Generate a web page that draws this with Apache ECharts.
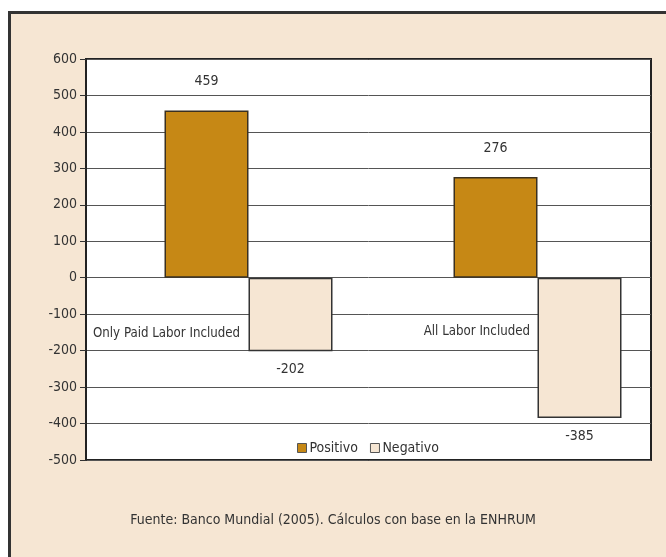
<!DOCTYPE html>
<html>
<head>
<meta charset="utf-8">
<script src="https://cdn.jsdelivr.net/npm/echarts@6/dist/echarts.min.js"></script>
<style>
  html, body { margin: 0; padding: 0; background: #fff; }
  #main { width: 666px; height: 557px; }
</style>
</head>
<body>
<div id="main"></div>
<script>
// data
var categories = ['Only Paid Labor Included', 'All Labor Included'];
var positivo = [459, 276];
var negativo = [-202, -385];
var yTicks = [-500, 600, 100]; // min, max, interval

var FONT = '"DejaVu Sans Condensed", "Liberation Sans Narrow", sans-serif';

function initChart(dom) {
  var myChart = echarts.init(document.getElementById(dom));
  var option = {
    backgroundColor: '#fff',
    textStyle: { fontFamily: FONT },
    graphic: [
      {
        type: 'rect', z: -10, silent: true,
        shape: { x: 9.5, y: 12.5, width: 900, height: 700 },
        style: { fill: '#f6e6d3', stroke: '#333', lineWidth: 3 }
      },
      {
        type: 'text', x: 93, y: 333, scaleX: 0.94, z: 10,
        style: { text: categories[0], font: '14px ' + FONT, fill: '#333', textAlign: 'left', textVerticalAlign: 'middle' }
      },
      {
        type: 'text', x: 530, y: 331, scaleX: 0.94, z: 10,
        style: { text: categories[1], font: '14px ' + FONT, fill: '#333', textAlign: 'right', textVerticalAlign: 'middle' }
      },
      {
        type: 'text', x: 333, y: 520,
        style: { text: 'Fuente: Banco Mundial (2005). Cálculos con base en la ENHRUM', font: '14px ' + FONT, fill: '#333', textAlign: 'center', textVerticalAlign: 'middle' }
      }
    ],
    legend: {
      left: 292, top: 436,
      itemWidth: 9, itemHeight: 9, itemGap: 12,
      icon: 'rect',
      textStyle: { fontFamily: FONT, fontSize: 14, color: '#333', padding: [0, 0, 0, -2] },
      data: [
        { name: 'Positivo', itemStyle: { borderColor: '#555', borderWidth: 1 } },
        { name: 'Negativo', itemStyle: { borderColor: '#555', borderWidth: 1 } }
      ]
    },
    grid: [
      {
        left: 86, top: 59, right: 15, bottom: 97,
        show: true, backgroundColor: '#fff', borderColor: '#222', borderWidth: 2
      },
      { left: 104, top: 59, width: 578, bottom: 97, outerBoundsMode: 'none' }
    ],
    xAxis: [
      { type: 'category', gridIndex: 0, data: categories, show: false },
      { type: 'category', gridIndex: 1, data: categories, show: false }
    ],
    yAxis: [
      {
        type: 'value', gridIndex: 0,
        min: yTicks[0], max: yTicks[1], interval: yTicks[2],
        axisLine: { show: true, lineStyle: { color: '#222', width: 2 } },
        axisTick: { show: true, length: 6, lineStyle: { color: '#333' } },
        axisLabel: { fontFamily: FONT, fontSize: 14, color: '#333', margin: 9 },
        splitLine: { lineStyle: { color: '#555', width: 1 } }
      },
      {
        type: 'value', gridIndex: 1,
        min: yTicks[0], max: yTicks[1], interval: yTicks[2],
        show: false, splitLine: { show: false }
      }
    ],
    series: [
      {
        name: 'Positivo', type: 'bar', xAxisIndex: 1, yAxisIndex: 1,
        barWidth: 84, barGap: '0%',
        data: positivo,
        itemStyle: { color: '#c68815', borderColor: '#3a3020', borderWidth: 1.5 },
        label: { show: true, position: 'top', distance: 22, fontFamily: FONT, fontSize: 14, color: '#333' }
      },
      {
        name: 'Negativo', type: 'bar', xAxisIndex: 1, yAxisIndex: 1,
        barWidth: 84, barGap: '0%',
        data: negativo,
        itemStyle: { color: '#f6e6d3', borderColor: '#333', borderWidth: 1.5 },
        label: { show: true, position: 'bottom', distance: 11, fontFamily: FONT, fontSize: 14, color: '#333' }
      }
    ]
  };
  myChart.setOption(option);
  return myChart;
}

initChart('main');
</script>
</body>
</html>
